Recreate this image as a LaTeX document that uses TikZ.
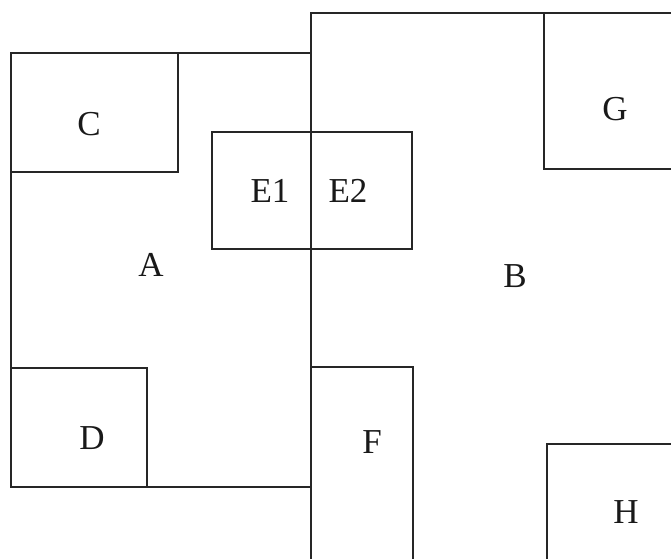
\documentclass[tikz,border=0pt]{standalone}
\usepackage{fontspec}
\setmainfont{Liberation Serif}
\begin{document}
\begin{tikzpicture}[x=1pt,y=-1pt,
  box/.style={draw=black!85,line width=1.3pt},
  lbl/.style={font=\fontsize{35}{38}\selectfont,inner sep=0pt,text=black!90}]
\useasboundingbox (0,0) rectangle (671,558);
\clip (0,0) rectangle (671,558);
% regions
\draw[box] (11,53) rectangle (311,487);   % A
\draw[box] (311,13) rectangle (680,570);  % B
\draw[box] (11,53) rectangle (178,172);   % C
\draw[box] (11,368) rectangle (147,487);  % D
\draw[box] (212,132) rectangle (412,249); % E
\draw[box] (311,132) -- (311,249);        % E1|E2 divider
\draw[box] (544,13) rectangle (680,169);  % G
\draw[box] (311,367) rectangle (413,570); % F
\draw[box] (547,444) rectangle (680,570); % H
% labels
\node[lbl] (lA) at (151,265) {A};
\node[lbl] (lB) at (515,276) {B};
\node[lbl] (lC) at (89,124) {C};
\node[lbl] (lD) at (92,438) {D};
\node[lbl] (lE1) at (270,191) {E1};
\node[lbl] (lE2) at (348,191) {E2};
\node[lbl] (lF) at (372,442) {F};
\node[lbl] (lG) at (615,109) {G};
\node[lbl] (lH) at (626,512) {H};
\end{tikzpicture}
\end{document}
